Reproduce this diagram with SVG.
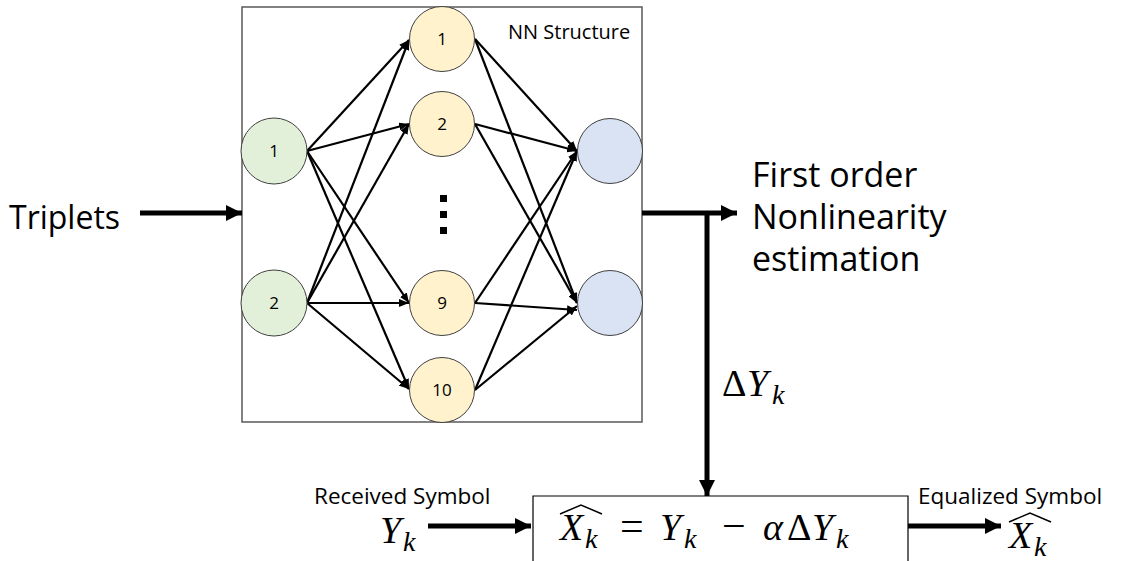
<svg xmlns="http://www.w3.org/2000/svg" width="1122" height="561" viewBox="0 0 1122 561">
<defs>
<marker id="ah" markerUnits="userSpaceOnUse" markerWidth="10" markerHeight="8" refX="10" refY="4" orient="auto"><path d="M0,0 L10,4 L0,8 Z" fill="#000"/></marker>
<marker id="big" markerUnits="userSpaceOnUse" markerWidth="16" markerHeight="16" refX="16" refY="8" orient="auto"><path d="M0,0 L16,8 L0,16 Z" fill="#000"/></marker>
</defs>
<style>
.e{stroke:#000;stroke-width:2.2;fill:none;marker-end:url(#ah)}
.t{stroke:#000;stroke-width:5;fill:none;marker-end:url(#big)}
.n{stroke:#404040;stroke-width:1}
.in{fill:#E2F0D9}.hid{fill:#FFF2CC}.out{fill:#DAE3F3}
.nt{font-family:"Open Sans","Liberation Sans",sans-serif;font-size:17px;fill:#000;text-anchor:middle}
.lab{font-family:"Open Sans","Liberation Sans",sans-serif;fill:#000}
.m{font-family:"Liberation Serif",serif;font-style:italic;fill:#000}
.mr{font-family:"Liberation Serif",serif;font-style:normal;fill:#000}
.hat{fill:none;stroke:#000;stroke-width:1.5}
</style>
<rect width="1122" height="561" fill="#fff"/>
<g id="nn-box"><rect x="242" y="7" width="400" height="415" fill="none" stroke="#595959" stroke-width="1.5"/>
<text class="lab" x="508" y="39" font-size="20">NN Structure</text></g>
<g id="connectors">
<line class="e" x1="307" y1="151" x2="409" y2="40"/>
<line class="e" x1="307" y1="151" x2="409" y2="124"/>
<line class="e" x1="307" y1="151" x2="409" y2="303"/>
<line class="e" x1="307" y1="151" x2="409" y2="389"/>
<line class="e" x1="307" y1="303" x2="409" y2="40"/>
<line class="e" x1="307" y1="303" x2="409" y2="124"/>
<line class="e" x1="307" y1="303" x2="409" y2="303"/>
<line class="e" x1="307" y1="303" x2="409" y2="389"/>
<line class="e" x1="475" y1="39" x2="577" y2="151"/>
<line class="e" x1="475" y1="39" x2="577" y2="303"/>
<line class="e" x1="475" y1="124" x2="577" y2="151"/>
<line class="e" x1="475" y1="124" x2="577" y2="303"/>
<line class="e" x1="475" y1="303" x2="577" y2="151"/>
<line class="e" x1="475" y1="303" x2="577" y2="310"/>
<line class="e" x1="475" y1="390" x2="577" y2="151"/>
<line class="e" x1="475" y1="390" x2="577" y2="306"/>
<line class="t" x1="140" y1="213" x2="242" y2="213"/>
<line class="t" x1="642" y1="213" x2="737" y2="213"/>
<line class="t" x1="707" y1="211" x2="707" y2="496"/>
<line class="t" x1="428" y1="526" x2="531" y2="526"/>
<line class="t" x1="908" y1="526" x2="1001" y2="526"/>
</g>
<g id="input1"><circle class="n in" cx="274" cy="151" r="33"/><text class="nt" x="274" y="157">1</text></g>
<g id="input2"><circle class="n in" cx="274" cy="303" r="33"/><text class="nt" x="274" y="309">2</text></g>
<g id="hidden1"><circle class="n hid" cx="442" cy="39" r="32.5"/><text class="nt" x="442" y="45">1</text></g>
<g id="hidden2"><circle class="n hid" cx="442" cy="124" r="32.5"/><text class="nt" x="442" y="130">2</text></g>
<g id="hidden9"><circle class="n hid" cx="442" cy="303" r="32.5"/><text class="nt" x="442" y="309">9</text></g>
<g id="hidden10"><circle class="n hid" cx="442" cy="390" r="32.5"/><text class="nt" x="442" y="396">10</text></g>
<g id="dots" fill="#000"><rect x="440" y="195" width="7" height="7"/><rect x="440" y="211" width="7" height="7"/><rect x="440" y="227" width="7" height="7"/></g>
<g id="output1"><circle class="n out" cx="610" cy="151" r="32.5"/></g>
<g id="output2"><circle class="n out" cx="610" cy="303" r="32.5"/></g>
<g id="triplets"><text class="lab" x="9" y="229" font-size="32">Triplets</text></g>
<g id="estimation"><text class="lab" font-size="34"><tspan x="752" y="187">First order</tspan><tspan x="752" y="229">Nonlinearity</tspan><tspan x="752" y="271">estimation</tspan></text></g>
<g id="delta"><text class="mr" x="722" y="396" font-size="38">Δ</text><text class="m" x="747" y="396" font-size="38">Y</text><text class="m" x="772" y="404" font-size="28">k</text></g>
<g id="received"><text class="lab" x="314" y="504" font-size="22.5">Received Symbol</text>
<text class="m" x="380" y="543" font-size="38">Y</text><text class="m" x="403" y="551" font-size="28">k</text></g>
<g id="equalizer"><path d="M533,561 V496 H908 V561" fill="none" stroke="#000" stroke-width="1.2"/>
<text class="m" x="560" y="540" font-size="38">X</text><text class="m" x="585" y="548" font-size="28">k</text>
<path class="hat" d="M560,514 L581,505 L602,514"/>
<text class="mr" x="620" y="540" font-size="42">=</text>
<text class="m" x="660" y="540" font-size="38">Y</text><text class="m" x="684" y="548" font-size="28">k</text>
<text class="mr" x="722" y="540" font-size="42">−</text>
<text class="m" x="763" y="540" font-size="38">α</text><text class="mr" x="787" y="540" font-size="38">Δ</text>
<text class="m" x="812" y="540" font-size="38">Y</text><text class="m" x="836" y="548" font-size="28">k</text></g>
<g id="equalized"><text class="lab" x="918" y="504" font-size="22.5">Equalized Symbol</text>
<text class="m" x="1009" y="548" font-size="38">X</text><text class="m" x="1034" y="556" font-size="28">k</text>
<path class="hat" d="M1009,522 L1030,513 L1051,522"/></g>
</svg>
